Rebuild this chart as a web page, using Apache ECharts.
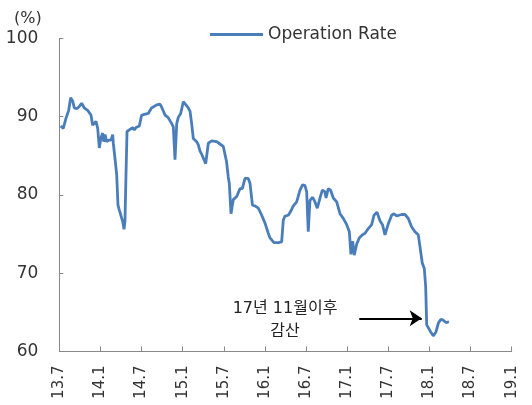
<!DOCTYPE html>
<html>
<head>
<meta charset="utf-8">
<script src="https://cdn.jsdelivr.net/npm/echarts@6/dist/echarts.min.js"></script>
<style>
  html, body { margin: 0; padding: 0; background: #fff; }
  #line { width: 532px; height: 405px; }
</style>
</head>
<body>
<div id="line"></div>
<script>
// x 값: 2013년 7월부터 경과한 개월 수
var months = [
    0.20, 0.58, 0.98, 1.37, 1.66, 1.95, 2.19, 2.54, 2.92, 3.27, 3.65, 4.14, 4.38, 4.62, 4.87,
    5.11, 5.35, 5.60, 5.84, 6.08, 6.33, 6.48, 6.67, 6.91, 7.21, 7.54, 7.79, 7.88, 8.17, 8.37,
    8.56, 8.75, 9.00, 9.25, 9.44, 9.58, 9.73, 9.88, 10.21, 10.46, 10.71, 10.94, 11.19, 11.44, 11.67,
    12.02, 12.98, 13.45, 14.21, 14.69, 14.94, 15.42, 15.86, 16.40, 16.63, 16.88, 17.13, 17.36, 17.71,
    18.09, 18.48, 18.82, 19.07, 19.31, 19.55, 20.04, 20.28, 20.53, 20.77, 21.01, 21.36, 21.74, 22.23,
    22.47, 22.96, 23.44, 23.92, 24.39, 24.65, 24.80, 25.05, 25.38, 25.88, 26.36, 26.70, 27.09, 27.57,
    27.82, 28.18, 28.55, 29.03, 29.53, 30.01, 30.49, 30.74, 30.98, 31.32, 31.95, 32.44, 32.68, 32.93,
    33.41, 33.76, 34.14, 34.63, 35.11, 35.51, 35.84, 36.09, 36.32, 36.57, 36.97, 37.30, 37.64, 38.03,
    38.37, 38.76, 38.91, 39.24, 39.59, 39.97, 40.47, 40.95, 41.43, 41.93, 42.31, 42.55, 42.80, 43.03,
    43.38, 43.76, 44.23, 44.60, 45.08, 45.57, 45.91, 46.35, 46.54, 46.78, 47.15, 47.51, 47.99, 48.49,
    48.83, 49.22, 49.56, 49.95, 50.43, 50.91, 51.41, 51.89, 52.37, 52.62, 52.95, 53.25, 53.45, 53.60,
    53.83, 54.18, 54.56, 54.95, 55.29, 55.64, 56.02, 56.41, 56.85
];
// 가동률 (%)
var rate = [
    88.8, 88.5, 89.8, 90.8, 92.4, 92.0, 91.1, 91.0, 91.3, 91.7, 91.1, 90.8, 90.6, 90.2, 88.9,
    88.8, 89.4, 88.5, 86.0, 87.3, 87.9, 86.8, 87.7, 86.8, 87.0, 87.0, 87.7, 86.6, 84.3, 82.6,
    78.7, 78.1, 77.9, 76.6, 75.6, 76.6, 82.6, 88.1, 88.3, 88.1, 88.6, 88.3, 88.6, 88.4, 88.8,
    90.2, 90.4, 91.1, 91.5, 91.6, 91.2, 90.2, 89.9, 89.1, 88.7, 84.5, 89.1, 89.9, 90.4,
    91.9, 91.5, 91.1, 90.7, 89.1, 87.2, 86.8, 86.4, 85.6, 85.2, 85.4, 84.0, 86.6, 86.9,
    87.0, 86.8, 86.5, 86.2, 84.3, 82.3, 81.5, 77.6, 79.4, 79.8, 80.8, 80.8, 82.1, 82.1,
    81.5, 78.7, 78.6, 78.3, 77.4, 76.4, 75.1, 74.5, 74.7, 73.9, 73.9, 74.0, 76.8, 77.3,
    77.4, 77.9, 78.6, 79.1, 80.6, 81.3, 81.2, 80.4, 75.3, 79.3, 79.7, 79.1, 78.3, 79.6,
    80.6, 80.4, 79.6, 80.8, 80.6, 79.6, 79.1, 77.6, 77.0, 76.2, 75.3, 72.4, 74.1, 72.3,
    73.7, 74.5, 74.9, 75.1, 75.7, 76.2, 77.4, 77.8, 78.0, 76.7, 76.2, 74.9, 76.3, 77.4,
    77.6, 77.3, 77.4, 77.5, 77.5, 77.0, 75.9, 75.3, 74.9, 73.4, 71.3, 70.6, 68.3, 63.4,
    63.6, 62.5, 62.0, 62.5, 63.6, 64.1, 64.0, 63.7, 63.8
];
var tickLabels = ['13.7', '14.1', '14.7', '15.1', '15.7', '16.1', '16.7', '17.1', '17.7', '18.1', '18.7', '19.1'];

var seriesName = 'Operation Rate';
var noteText = '17년 11월이후\n감산';
// 화살표 시작/끝 (개월, %)
var arrowFrom = [43.76, 64.24];
var arrowTo = [52.87, 64.24];
var notePos = [32.93, 64.0];

var data = [];
for (var i = 0; i < months.length; i++) {
    data.push([months[i], rate[i]]);
}

var myChart = echarts.init(document.getElementById('line'));

var axisColor = '#888888';
var textColor = '#333333';
var pctLabel = {
    type: 'text',
    left: 14,
    top: 11,
    style: { text: '(%)', fontSize: 16, fill: textColor, fontFamily: 'DejaVu Sans' }
};

var option = {
    animation: false,
    textStyle: { fontFamily: 'DejaVu Sans' },
    legend: {
        left: 205,
        top: 21,
        icon: 'rect',
        itemWidth: 53,
        itemHeight: 3,
        itemGap: 5,
        textStyle: { fontSize: 17, color: textColor, fontFamily: 'DejaVu Sans' },
        data: [seriesName]
    },
    grid: {
        left: 59.3,
        right: 20.3,
        top: 38.3,
        bottom: 53.5,
        outerBoundsMode: 'none'
    },
    xAxis: {
        type: 'value',
        min: 0,
        max: 66,
        interval: 6,
        splitLine: { show: false },
        axisLine: { lineStyle: { color: axisColor, width: 1 } },
        axisTick: { inside: true, length: 5, lineStyle: { color: axisColor } },
        axisLabel: {
            rotate: 90,
            margin: 14,
            fontSize: 15,
            color: textColor,
            fontFamily: 'DejaVu Sans',
            formatter: function (v) {
                return tickLabels[Math.round(v / 6)];
            }
        }
    },
    yAxis: {
        type: 'value',
        min: 60,
        max: 100,
        interval: 10,
        splitLine: { show: false },
        axisLine: { show: true, lineStyle: { color: axisColor, width: 1 } },
        axisTick: { show: true, inside: true, length: 4, lineStyle: { color: axisColor } },
        axisLabel: { margin: 21, fontSize: 17, color: textColor, fontFamily: 'DejaVu Sans' }
    },
    graphic: [pctLabel],
    series: [{
        name: seriesName,
        type: 'line',
        symbol: 'none',
        data: data,
        lineStyle: { color: '#4a7ebb', width: 2.8 },
        itemStyle: { color: '#4a7ebb' },
        markLine: {
            silent: true,
            symbol: ['none', 'arrow'],
            symbolSize: 12,
            label: { show: false },
            lineStyle: { color: '#000', width: 2, type: 'solid' },
            data: [[{ coord: arrowFrom }, { coord: arrowTo }]]
        }
    }]
};

myChart.setOption(option);

// 주석 텍스트 위치
var p = myChart.convertToPixel({ gridIndex: 0 }, notePos);
myChart.setOption({
    graphic: [pctLabel, {
        type: 'text',
        x: p[0],
        y: p[1],
        style: {
            text: noteText,
            fontSize: 16,
            lineHeight: 23,
            align: 'center',
            verticalAlign: 'middle',
            fill: '#222',
            fontFamily: 'DejaVu Sans, Noto Sans CJK KR'
        }
    }]
});
</script>
</body>
</html>
